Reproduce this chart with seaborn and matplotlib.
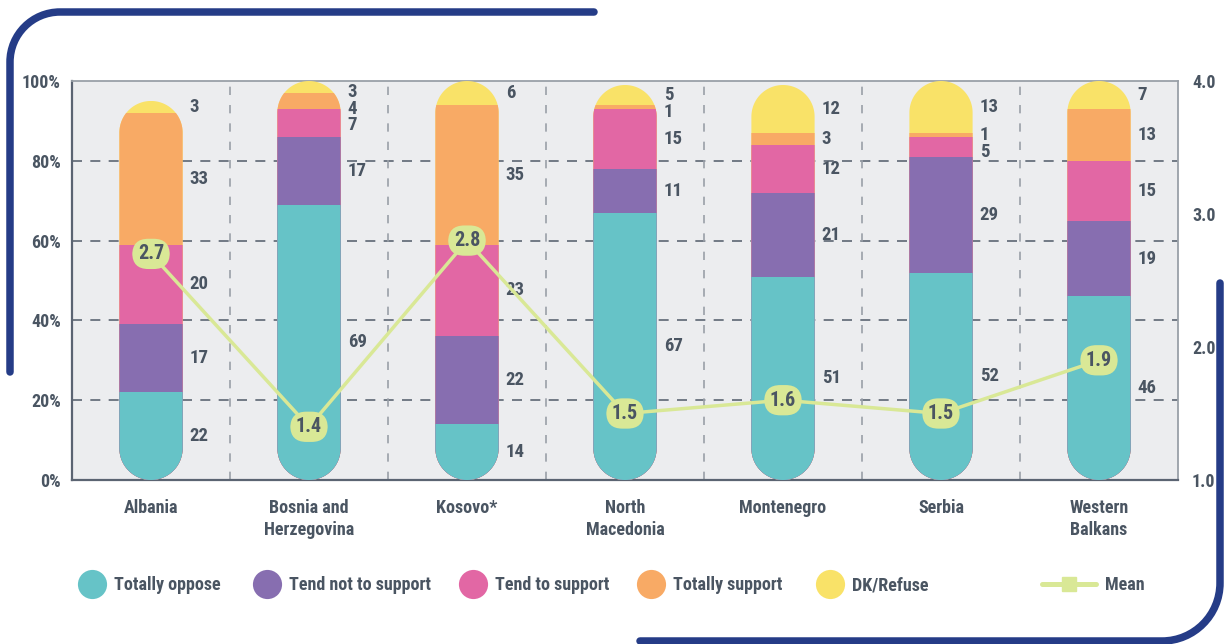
import numpy as np
import pandas as pd
import matplotlib
matplotlib.use("Agg")
import matplotlib.pyplot as plt
import matplotlib.transforms as mtransforms
from matplotlib import font_manager as fm
from matplotlib.path import Path
from matplotlib.patches import PathPatch
from matplotlib.lines import Line2D
import seaborn as sns

# ---- data -------------------------------------------------------------
countries = ["Albania", "Bosnia and\nHerzegovina", "Kosovo*", "North\nMacedonia",
             "Montenegro", "Serbia", "Western\nBalkans"]
totally_oppose = [22, 69, 14, 67, 51, 52, 46]
tend_not_support = [17, 17, 22, 11, 21, 29, 19]
tend_support = [20, 7, 23, 15, 12, 5, 15]
totally_support = [33, 4, 35, 1, 3, 1, 13]
dk_refuse = [3, 3, 6, 5, 12, 13, 7]
mean_score = [2.7, 1.4, 2.8, 1.5, 1.6, 1.5, 1.9]

series_names = ["Totally oppose", "Tend not to support", "Tend to support",
                "Totally support", "DK/Refuse"]
series_values = [totally_oppose, tend_not_support, tend_support,
                 totally_support, dk_refuse]
left_ticks = [0, 20, 40, 60, 80, 100]
right_ticks = [1.0, 2.0, 3.0, 4.0]

# ---- style ------------------------------------------------------------
series_colors = ["#66c3c7", "#876eb0", "#e267a4", "#f8aa65", "#f9e268"]
mean_color = "#d9e896"
text_color = "#4a5562"
frame_color = "#253c87"
plot_bg = "#ecedef"

sns.set_theme(style="white")

# prefer a narrow bold face for the labels
entries = fm.fontManager.ttflist
names = {f.name for f in entries}
stretch = "normal"
if "Liberation Sans Narrow" in names:
    base_font = "Liberation Sans Narrow"
elif "Roboto Condensed" in names:
    base_font = "Roboto Condensed"
elif any(f.name == "DejaVu Sans" and "condensed" in str(f.stretch) for f in entries):
    base_font = "DejaVu Sans"
    stretch = "condensed"
elif "Roboto" in names:
    base_font = "Roboto"
else:
    base_font = "DejaVu Sans"
plt.rcParams["font.family"] = [base_font, "DejaVu Sans"]
plt.rcParams["font.stretch"] = stretch
plt.rcParams["font.weight"] = "bold"

FS = 13
W, H = 1224, 644
fig = plt.figure(figsize=(W / 100, H / 100), dpi=100)
ax = fig.add_axes([72 / W, 164 / H, 1106 / W, 399 / H])
ax.set_facecolor(plot_bg)

n = len(countries)
vals = np.array(series_values, dtype=float)
cum = np.cumsum(vals, axis=0)
bar_w = 0.4

# stacked bars: draw cumulative totals from the top segment downwards
for k in reversed(range(len(series_names))):
    df = pd.DataFrame({"country": countries, "value": cum[k]})
    sns.barplot(data=df, x="country", y="value", order=countries,
                color=series_colors[k], saturation=1, width=bar_w,
                linewidth=0, ax=ax, zorder=3)

ax.set_xlim(-0.5, n - 0.5)
ax.set_ylim(0, 100)

# clip each column into a capsule (semicircular ends in screen space)
px_per_x = ax.bbox.width / n
px_per_y = ax.bbox.height / 100
hw = bar_w / 2
ry = hw * px_per_x / px_per_y


def capsule(xc, top):
    t = np.linspace(0, np.pi, 60)
    top_arc = np.column_stack([xc + hw * np.cos(t), top - ry + ry * np.sin(t)])
    bot_arc = np.column_stack([xc - hw * np.cos(t), ry - ry * np.sin(t)])
    verts = np.vstack([top_arc, bot_arc, top_arc[:1]])
    return Path(verts, closed=True)


totals = cum[-1]
for bar in ax.patches:
    xc = bar.get_x() + bar.get_width() / 2
    i = int(round(xc))
    bar.set_clip_path(capsule(i, totals[i]), ax.transData)

# grid lines and column separators
for y in left_ticks[1:-1]:
    ax.axhline(y, color="#5d6673", lw=1.2, ls=(0, (6, 5)), zorder=1)
for i in range(n - 1):
    ax.axvline(i + 0.5, color="#9aa0a8", lw=1.2, ls=(0, (5, 6)), zorder=1)

# segment value labels, nudged apart where segments are thin
min_gap = 4.2
for i in range(n):
    mids = cum[:, i] - vals[:, i] / 2
    ypos = np.empty_like(mids)
    upper = 101.5
    for k in reversed(range(len(series_names))):
        ypos[k] = min(mids[k], upper - min_gap)
        upper = ypos[k]
    for k in range(len(series_names)):
        ax.text(i + hw + 0.045, ypos[k], f"{int(vals[k, i])}", ha="left",
                va="center", fontsize=FS + 0.5, fontweight="bold",
                color=text_color, zorder=6)

# axes styling
ax.set_xlabel("")
ax.set_ylabel("")
ax.set_yticks(left_ticks)
ax.set_yticklabels([f"{t}%" for t in left_ticks])
ax.tick_params(axis="y", length=0, pad=8, labelsize=FS, labelcolor=text_color)
ax.tick_params(axis="x", length=0, pad=14, labelsize=FS, labelcolor=text_color)
for lab in ax.get_xticklabels() + ax.get_yticklabels():
    lab.set_fontweight("bold")
    lab.set_linespacing(1.25)
for side in ["left", "bottom"]:
    ax.spines[side].set_color("#5b6472")
    ax.spines[side].set_linewidth(1.6)
for side in ["top", "right"]:
    ax.spines[side].set_color("#9aa0a8")
    ax.spines[side].set_linewidth(1.3)
    ax.spines[side].set_visible(True)

# mean score on the secondary axis
ax2 = ax.twinx()
sns.lineplot(x=np.arange(n), y=mean_score, color=mean_color, lw=2.5, ax=ax2,
             zorder=4)
ax2.set_ylim(1, 4)
ax2.set_xlim(-0.5, n - 0.5)
ax2.set_yticks(right_ticks)
ax2.set_yticklabels([f"{t:.1f}" for t in right_ticks])
ax2.tick_params(axis="y", length=0, pad=10, labelsize=FS, labelcolor=text_color)
for lab in ax2.get_yticklabels():
    lab.set_fontweight("bold")
for s in ax2.spines.values():
    s.set_visible(False)
ax2.grid(False)
for i, m in enumerate(mean_score):
    ax2.text(i, m, f"{m:.1f}", ha="center", va="center", fontsize=FS + 1.5,
             fontweight="bold", color=text_color, zorder=7,
             bbox=dict(boxstyle="round,pad=0.28,rounding_size=0.8",
                       fc=mean_color, ec="none"))

# legend: one entry per anchor so the items sit at fixed positions
legend_y = 1 - 585 / H
item_left = [77, 252, 458, 636, 815]
for name, color, x0 in zip(series_names, series_colors, item_left):
    h = Line2D([], [], marker="o", ls="none", markersize=21,
               markerfacecolor=color, markeredgecolor="none")
    fig.legend([h], [name], loc="center left", bbox_to_anchor=(x0 / W, legend_y),
               frameon=False, prop={"size": FS, "weight": "bold"},
               labelcolor=text_color, handletextpad=0.4, handlelength=1.65,
               borderpad=0, borderaxespad=0)
mean_handle = Line2D([], [], color=mean_color, lw=3.6, marker="s", markersize=10,
                     markerfacecolor=mean_color, markeredgecolor=mean_color)
fig.legend([mean_handle], ["Mean"], loc="center left",
           bbox_to_anchor=(1042 / W, legend_y), frameon=False,
           prop={"size": FS, "weight": "bold"}, labelcolor=text_color,
           handletextpad=0.5, handlelength=3.0, borderpad=0, borderaxespad=0)

# decorative frame corners (pixel coordinates, origin top-left)
px = mtransforms.Affine2D().scale(1 / W, -1 / H).translate(0, 1) + fig.transFigure
r1 = 50
k = 0.5523
tl = Path([(10, 372), (10, 12 + r1), (10, 12 + r1 * (1 - k)), (10 + r1 * (1 - k), 12),
           (10 + r1, 12), (594, 12)],
          [Path.MOVETO, Path.LINETO, Path.CURVE4, Path.CURVE4, Path.CURVE4, Path.LINETO])
r2 = 58
br = Path([(640, 641), (1220 - r2, 641), (1220 - r2 * (1 - k), 641), (1220, 641 - r2 * (1 - k)),
           (1220, 641 - r2), (1220, 283)],
          [Path.MOVETO, Path.LINETO, Path.CURVE4, Path.CURVE4, Path.CURVE4, Path.LINETO])
for p in (tl, br):
    fig.patches.append(PathPatch(p, transform=px, fill=False, ec=frame_color, lw=5.4,
                                 capstyle="round", joinstyle="round"))

fig.savefig("out.png", dpi=100, facecolor="white")
